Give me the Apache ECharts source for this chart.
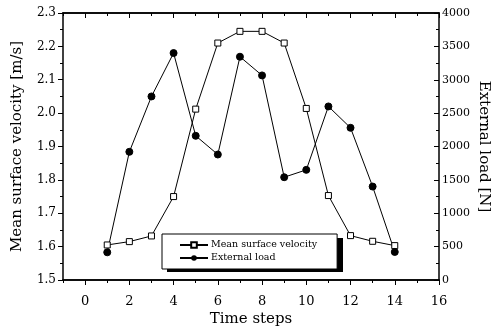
<!DOCTYPE html>
<html>
<head>
<meta charset="utf-8">
<script src="https://cdn.jsdelivr.net/npm/echarts@6/dist/echarts.min.js"></script>
<style>
  html, body { margin: 0; padding: 0; background: #fff; }
  #chart { width: 494px; height: 329px; }
</style>
</head>
<body>
<div id="chart"></div>
<script>
// time steps
const steps = [1, 2, 3, 4, 5, 6, 7, 8, 9, 10, 11, 12, 13, 14];
// mean surface velocity [m/s]
const velocity = [1.605, 1.615, 1.632, 1.75, 2.012, 2.21, 2.245, 2.245, 2.21, 2.014, 1.753, 1.633, 1.616, 1.603];
// external load [N]
const load = [415, 1920, 2750, 3400, 2160, 1880, 3345, 3065, 1540, 1650, 2600, 2280, 1400, 420];
// x tick labels (even) and minor tick positions (odd)
const xMajor = [0, 2, 4, 6, 8, 10, 12, 14, 16];
const xMinor = [-1, 1, 3, 5, 7, 9, 11, 13, 15];

const font = "DejaVu Serif";
const chart = echarts.init(document.getElementById("chart"));

const velData = steps.map((s, i) => [s, velocity[i]]);
const loadData = steps.map((s, i) => [s, load[i]]);

const axisLine = { onZero: false, lineStyle: { color: "#000", width: 1.5 } };

// builds one x axis (bottom or top, major or minor ticks)
function xAxisOf(pos, ticks, len, labels) {
  return {
    type: "value",
    min: -1,
    max: 16,
    position: pos,
    axisLine: axisLine,
    axisTick: { customValues: ticks, inside: pos === "top", length: len, lineStyle: { color: "#000" } },
    axisLabel: labels
      ? { customValues: ticks, fontFamily: font, fontSize: 13, color: "#000", margin: 15 }
      : { show: false },
    splitLine: { show: false }
  };
}

const xAxes = [
  xAxisOf("bottom", xMajor, 5, true),
  xAxisOf("bottom", xMinor, 3, false),
  xAxisOf("top", xMajor, 5, false),
  xAxisOf("top", xMinor, 3, false)
];
xAxes[0].name = "Time steps";
xAxes[0].nameLocation = "middle";
xAxes[0].nameGap = 32;
xAxes[0].nameMoveOverlap = false;
xAxes[0].nameTextStyle = { fontFamily: font, fontSize: 15, color: "#000" };

chart.setOption({
  animation: false,
  textStyle: { fontFamily: font, color: "#000" },
  grid: { left: 63, right: 55, top: 13, bottom: 49, outerBoundsMode: "none", containLabel: false },
  // drop shadow behind the legend box
  graphic: [
    {
      type: "rect",
      left: 167,
      top: 238,
      z: 3,
      shape: { width: 176, height: 34 },
      style: { fill: "#000" }
    }
  ],
  legend: {
    orient: "vertical",
    left: 162,
    top: 234,
    z: 10,
    padding: [6, 20, 6, 17],
    itemGap: 3,
    itemWidth: 28,
    itemHeight: 7,
    backgroundColor: "#fff",
    borderColor: "#000",
    borderWidth: 1,
    textStyle: { fontFamily: font, fontSize: 9.5, color: "#000", padding: [0, 0, 0, -2] },
    data: ["Mean surface velocity", "External load"]
  },
  xAxis: xAxes,
  yAxis: [
    {
      type: "value",
      min: 1.5,
      max: 2.3,
      interval: 0.1,
      position: "left",
      name: "Mean surface velocity [m/s]",
      nameLocation: "middle",
      nameRotate: 90,
      nameGap: 38,
      nameMoveOverlap: false,
      nameTextStyle: { fontFamily: font, fontSize: 15, color: "#000" },
      axisLine: axisLine,
      axisTick: { inside: false, length: 5, lineStyle: { color: "#000" } },
      minorTick: { show: true, splitNumber: 2, length: 3, lineStyle: { color: "#000" } },
      axisLabel: {
        fontFamily: font, fontSize: 12, color: "#000", margin: 7,
        formatter: v => v.toFixed(1)
      },
      splitLine: { show: false }
    },
    {
      type: "value",
      min: 0,
      max: 4000,
      interval: 500,
      position: "right",
      name: "External load [N]",
      nameLocation: "middle",
      nameRotate: -90,
      nameGap: 37,
      nameMoveOverlap: false,
      nameTextStyle: { fontFamily: font, fontSize: 15, color: "#000" },
      axisLine: axisLine,
      axisTick: { inside: true, length: 5, lineStyle: { color: "#000" } },
      minorTick: { show: true, splitNumber: 2, length: 3, lineStyle: { color: "#000" } },
      axisLabel: { fontFamily: font, fontSize: 11, color: "#000", margin: 3, formatter: v => String(v) },
      splitLine: { show: false }
    }
  ],
  series: [
    {
      name: "Mean surface velocity",
      type: "line",
      xAxisIndex: 0,
      yAxisIndex: 0,
      data: velData,
      symbol: "rect",
      symbolSize: 6,
      itemStyle: { color: "#fff", borderColor: "#000", borderWidth: 1 },
      lineStyle: { color: "#000", width: 1 }
    },
    {
      name: "External load",
      type: "line",
      xAxisIndex: 0,
      yAxisIndex: 1,
      data: loadData,
      symbol: "circle",
      symbolSize: 7,
      itemStyle: { color: "#000", borderColor: "#000" },
      lineStyle: { color: "#000", width: 1 }
    }
  ]
});
</script>
</body>
</html>
